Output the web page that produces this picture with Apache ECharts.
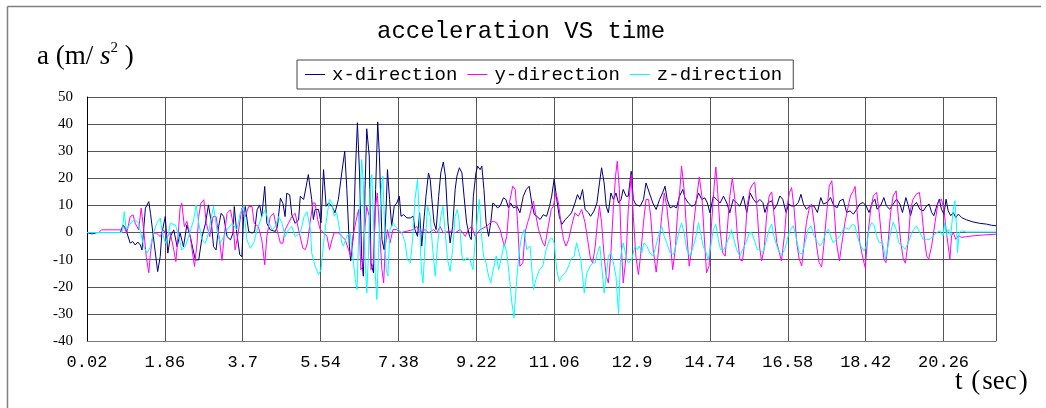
<!DOCTYPE html>
<html>
<head>
<meta charset="utf-8">
<title>acceleration VS time</title>
<script src="https://cdn.jsdelivr.net/npm/echarts@6/dist/echarts.min.js"></script>
<style>
  html, body { margin: 0; padding: 0; background: #fff; }
  #chart { width: 1046px; height: 408px; }
</style>
</head>
<body>
<div id="chart"></div>
<script>
// Acceleration records, [time (s), acceleration (m/s^2)] at turning points of each trace.
const xDirection = [
  [0.02,0],[0.14,-0.5],[0.26,0],[0.81,0],[0.87,2.8],[0.93,1.6],[1.04,-3.9],[1.10,-3.3],[1.16,-4.6],[1.22,-3.5],
  [1.28,-4.6],[1.32,-6.4],[1.40,9.0],[1.48,11.4],[1.52,7.1],[1.69,-14.4],[1.75,-8.9],[1.79,-0.2],[1.87,5.9],[1.93,-7.6],
  [1.99,-1.5],[2.07,1.0],[2.15,-5.2],[2.22,-0.2],[2.30,-5.2],[2.38,2.8],[2.46,-1.5],[2.58,-10.1],[2.66,-10.1],[2.74,-1.5],
  [2.82,3.4],[2.89,10.2],[2.96,3.4],[3.01,-5.2],[3.07,-6.4],[3.13,2.2],[3.19,7.1],[3.25,5.9],[3.33,-1.5],[3.41,-2.7],
  [3.47,-0.2],[3.50,9.6],[3.56,-0.2],[3.63,-8.2],[3.68,-8.9],[3.72,5.9],[3.76,9.6],[3.84,0.4],[3.92,-0.2],[3.98,0.4],
  [4.04,8.4],[4.10,10.2],[4.15,5.9],[4.22,17.0],[4.27,3.4],[4.35,1.0],[4.47,0.4],[4.52,2.2],[4.59,12.7],[4.65,10.8],
  [4.70,5.9],[4.74,14.5],[4.81,13.9],[4.86,6.5],[4.94,3.4],[5.02,4.7],
  [5.06,13.4],[5.14,12.2],[5.20,17.1],[5.25,21.4],[5.33,12.2],[5.37,4.8],[5.41,8.5],[5.49,8.5],[5.55,3.6],[5.61,23.2],
  [5.67,9.7],[5.73,10.9],[5.81,9.7],[5.88,7.3],[5.96,12.2],[6.04,22.0],[6.11,30.0],[6.16,15.9],[6.22,-5.0],[6.25,-10.5],
  [6.32,-0.1],[6.36,22.0],[6.41,40.5],[6.46,22.0],[6.51,-8.7],[6.55,-16.1],[6.59,15.9],[6.63,38.3],[6.69,28.2],[6.73,-11.2],
  [6.79,-14.9],[6.84,15.9],[6.89,40.8],[6.93,28.2],[6.99,-2.6],[7.04,-6.3],[7.09,9.7],[7.12,23.2],[7.17,12.2],[7.22,2.3],
  [7.28,9.7],[7.34,10.9],[7.40,13.4],[7.44,6.0],[7.50,6.6],[7.58,5.4],[7.66,5.4],[7.73,6.0],[7.77,1.1],[7.83,-1.4],
  [7.88,7.3],[7.93,-5.0],[7.99,6.0],[8.03,13.4],[8.09,22.0],[8.13,19.6],[8.17,12.2],[8.22,3.6],[8.27,1.1],[8.33,13.4],
  [8.38,22.0],[8.44,26.0],[8.49,20.8],[8.55,3.6],[8.60,-3.8],[8.66,2.3],[8.72,15.9],[8.76,20.8],[8.82,23.9],[8.88,22.0],
  [8.93,13.4],[8.99,3.6],[9.06,-1.4],[9.10,-2.6],[9.15,13.4],[9.21,22.0],[9.25,24.5],[9.31,23.2],[9.35,24.5],[9.40,15.9],
  [9.45,3.6],[9.51,-1.4],[9.56,3.6],[9.61,10.9],[9.66,10.3],[9.72,9.1],[9.78,9.7],[9.86,12.8],[9.92,12.2],[9.98,9.1],
  [10.03,10.9],[10.10,9.1],[10.18,9.7],[10.25,7.3],[10.33,13.4],[10.40,15.9],[10.47,17.1],[10.53,10.9],[10.59,6.6],[10.65,6.0],
  [10.73,4.8],
  [10.80,6.6],[10.88,6.0],[10.95,9.7],[11.00,13.4],[11.06,19.8],[11.12,12.2],[11.18,6.0],[11.24,3.0],[11.32,4.8],[11.40,6.0],
  [11.47,7.3],[11.55,10.9],[11.61,14.0],[11.67,12.2],[11.73,15.9],[11.79,8.5],[11.87,7.3],[11.92,6.0],[12.00,7.9],[12.07,10.9],
  [12.13,18.3],[12.18,23.9],[12.24,18.3],[12.29,9.7],[12.34,7.3],[12.40,14.6],[12.46,12.2],[12.52,14.6],[12.58,10.9],[12.64,12.2],
  [12.69,15.9],[12.76,13.4],[12.81,13.4],[12.88,22.6],[12.93,12.2],[12.99,10.3],[13.09,9.7],[13.17,12.2],[13.23,18.3],[13.31,14.6],
  [13.39,10.9],[13.47,8.5],[13.55,12.2],[13.62,14.6],[13.68,17.1],[13.73,12.2],[13.80,9.1],[13.88,9.7],[13.95,9.1],[14.02,13.4],
  [14.10,15.9],[14.15,12.8],[14.23,10.9],[14.31,9.7],[14.39,10.3],[14.47,14.6],[14.55,12.2],[14.62,12.8],[14.68,10.9],[14.74,7.3],
  [14.82,13.4],[14.90,12.2],[14.98,10.9],[15.06,13.4],[15.14,10.9],[15.21,7.3],[15.29,12.2],[15.37,10.9],[15.45,9.7],[15.53,13.4],
  [15.61,7.3],[15.69,14.6],[15.77,12.2],[15.84,10.9],[15.92,12.2],
  [15.99,11.1],[16.04,7.4],[16.12,11.1],[16.20,11.7],[16.26,8.6],[16.33,10.5],[16.39,13.5],[16.46,12.3],[16.54,7.4],[16.60,10.5],
  [16.67,9.8],[16.75,9.8],[16.83,11.1],[16.89,14.1],[16.95,10.5],[17.02,8.6],[17.10,9.8],[17.20,9.8],[17.28,7.4],[17.36,12.9],
  [17.42,10.5],[17.51,11.1],[17.59,12.9],[17.67,9.8],[17.75,9.2],[17.81,11.7],[17.89,12.3],[17.97,7.4],[18.05,8.0],[18.13,6.8],
  [18.21,8.6],[18.28,10.5],[18.36,11.1],[18.43,9.8],[18.50,7.4],[18.58,11.1],[18.64,12.3],[18.69,8.6],[18.77,9.8],[18.85,12.9],
  [18.91,9.8],[18.99,8.6],[19.07,10.5],[19.15,12.3],[19.23,10.5],[19.29,7.4],[19.37,12.9],[19.43,9.8],[19.48,6.2],[19.54,9.8],
  [19.62,11.1],[19.70,8.6],[19.78,8.0],[19.86,9.8],[19.92,10.5],[19.98,7.4],[20.03,6.2],[20.10,9.8],[20.16,12.3],[20.21,8.6],
  [20.27,6.8],[20.32,12.3],[20.37,8.0],[20.43,6.2],[20.49,7.4],[20.55,5.5],[20.61,6.8],[20.69,5.5],[20.80,4.7],[20.96,3.9],
  [21.12,3.4],[21.28,3.1],[21.39,2.7],[21.50,2.5]
];

const yDirection = [
  [0.02,0],[0.30,0],[0.36,1.0],[0.81,1.0],[0.89,2.2],[0.96,-0.2],[1.04,5.9],[1.11,6.5],[1.16,3.4],[1.24,1.0],
  [1.30,9.0],[1.36,1.0],[1.42,-8.9],[1.48,-14.8],[1.52,-7.6],[1.58,-0.2],[1.66,-0.2],[1.75,-1.5],[1.83,1.0],[1.91,-1.5],
  [1.99,-0.2],[2.07,-6.4],[2.12,-10.7],[2.17,-1.5],[2.22,9.0],[2.26,10.8],[2.32,2.2],[2.38,4.1],[2.46,-1.5],[2.56,-12.5],
  [2.62,-3.9],[2.66,5.9],[2.71,10.8],[2.78,12.1],[2.84,3.4],[2.92,-1.5],[3.00,5.9],[3.07,5.9],[3.15,-2.7],[3.21,-10.3],
  [3.26,-1.5],[3.33,7.1],[3.41,8.4],[3.47,3.4],[3.52,-6.4],[3.58,-1.5],[3.68,9.0],[3.76,5.9],[3.84,9.6],[3.92,9.6],
  [3.97,3.4],[4.07,2.2],[4.15,-2.7],[4.22,-11.9],[4.27,-1.5],[4.35,5.9],[4.43,7.1],[4.51,1.0],[4.59,-3.9],[4.65,-3.9],
  [4.70,1.0],[4.78,3.4],[4.86,5.9],[4.94,7.1],[5.02,1.0],
  [5.12,-5.7],[5.18,-6.3],[5.23,-3.8],[5.29,3.6],[5.36,10.9],[5.41,10.9],[5.47,4.8],[5.53,1.1],[5.61,-0.1],[5.69,-1.4],
  [5.75,-6.3],[5.81,-2.6],[5.86,-0.1],[5.96,-0.1],[6.04,-1.4],[6.12,-2.6],[6.20,-6.3],[6.25,-8.7],[6.32,-0.1],[6.40,6.0],
  [6.44,8.5],[6.49,-13.7],[6.54,-12.4],[6.59,2.3],[6.63,9.7],[6.69,6.0],[6.73,-13.7],[6.79,-11.2],[6.83,8.5],[6.88,14.6],
  [6.93,1.1],[6.99,-13.7],[7.03,-18.6],[7.07,-5.0],[7.12,1.1],[7.18,-3.8],[7.25,1.1],[7.34,1.1],[7.42,-0.1],[7.58,0.5],
  [7.73,1.1],[7.81,2.3],[7.89,-0.1],[8.01,1.1],[8.09,-0.1],[8.21,1.1],[8.29,-0.1],[8.36,2.3],[8.44,-0.1],[8.60,0.5],
  [8.72,-0.1],[8.84,1.1],[8.96,-1.4],[9.03,1.1],[9.11,2.3],[9.19,-1.4],[9.31,1.1],[9.47,2.3],[9.55,3.6],[9.62,4.2],
  [9.70,3.6],[9.78,1.1],[9.88,-5.0],[9.94,-1.4],[10.00,10.9],[10.08,17.1],[10.14,15.9],[10.19,4.8],[10.25,-12.4],[10.32,-11.2],
  [10.37,-0.1],[10.43,3.6],[10.48,6.0],[10.53,9.7],[10.57,11.6],[10.63,6.0],[10.69,1.1],
  [10.79,-3.8],[10.84,-5.0],[10.92,2.3],[10.99,8.5],[11.04,9.7],[11.10,14.6],[11.16,10.9],[11.22,3.6],[11.28,-2.6],[11.34,-5.0],
  [11.40,-2.6],[11.47,2.3],[11.55,7.3],[11.63,6.0],[11.71,8.5],[11.79,3.6],[11.85,-2.6],[11.92,-10.0],[11.97,-11.2],[12.03,-5.0],
  [12.08,3.6],[12.13,9.7],[12.18,3.6],[12.24,-8.7],[12.29,-16.1],[12.34,-18.6],[12.40,-7.5],[12.46,9.7],[12.51,20.8],[12.55,26.3],
  [12.60,15.9],[12.64,-2.6],[12.69,-18.6],[12.76,-8.7],[12.81,8.5],[12.88,21.4],[12.93,6.0],[12.99,-8.7],[13.05,-15.5],[13.10,-8.7],
  [13.17,3.6],[13.23,12.2],[13.29,12.2],[13.34,6.0],[13.40,-6.3],[13.47,-14.6],[13.52,-7.5],[13.60,6.0],[13.66,14.6],[13.72,9.7],
  [13.80,-2.6],[13.86,-13.7],[13.92,-6.3],[13.97,6.0],[14.03,15.9],[14.07,24.5],[14.13,15.9],[14.19,-0.1],[14.25,-12.4],[14.31,-6.3],
  [14.36,3.6],[14.43,13.4],[14.49,20.5],[14.55,13.4],[14.60,-0.1],[14.66,-14.9],[14.72,-12.4],[14.78,3.6],[14.84,17.1],[14.88,24.2],
  [14.92,15.9],[14.98,1.1],[15.04,-7.5],[15.10,-8.7],[15.15,1.1],[15.21,13.4],[15.27,20.2],[15.33,12.2],[15.39,-1.4],[15.45,-10.0],
  [15.51,-10.5],[15.57,-2.5],[15.62,9.8],[15.69,16.0],[15.75,17.8],[15.80,18.5],[15.86,7.4],[15.91,-4.9],[15.96,-10.5],[16.02,-6.2],
  [16.08,6.2],[16.14,13.5],[16.20,15.0],[16.25,7.4],[16.32,-3.7],[16.38,-7.4],[16.43,-10.5],[16.50,-1.2],[16.55,8.6],[16.62,14.8],
  [16.67,16.6],[16.73,8.6],[16.79,-3.7],[16.85,-9.8],[16.91,-12.3],[16.96,-4.9],[17.02,3.7],[17.09,9.2],[17.14,10.5],[17.20,3.7],
  [17.26,-4.9],[17.32,-11.1],[17.38,-12.7],[17.43,-4.9],[17.50,7.4],[17.56,17.2],[17.62,19.1],[17.67,9.8],[17.73,-3.7],[17.80,-10.5],
  [17.85,-4.9],[17.93,3.7],[18.01,9.8],[18.06,13.5],[18.13,15.4],[18.17,17.0],[18.22,7.4],[18.28,-3.7],[18.36,-9.8],[18.41,-12.9],
  [18.47,-1.2],[18.54,8.6],[18.60,13.5],[18.68,14.8],[18.74,7.4],[18.80,-2.5],[18.85,-9.8],[18.90,-11.1],[18.95,-3.7],[19.01,7.4],
  [19.07,13.5],[19.14,15.4],[19.19,6.2],[19.25,-3.7],[19.31,-9.8],[19.36,-11.3],[19.43,-2.5],[19.48,8.6],[19.54,12.3],[19.61,14.1],
  [19.69,14.8],[19.74,8.6],[19.80,-1.2],[19.86,-8.6],[19.91,-9.8],[19.98,-4.9],[20.06,3.7],[20.13,11.1],[20.21,12.3],[20.27,8.6],
  [20.32,1.2],[20.37,-4.9],[20.41,-9.8],[20.45,-1.2],[20.49,0],[20.55,-2.5],[20.61,-1.2],[20.69,-1.8],[20.80,-1.5],[20.96,-1.2],
  [21.20,-0.9],[21.50,-0.6]
];

const zDirection = [
  [0.02,0],[0.85,0],[0.90,7.7],[0.95,1.0],[1.00,2.2],[1.08,4.1],[1.16,4.7],[1.24,3.4],[1.36,-5.2],[1.44,-7.6],
  [1.52,-5.2],[1.59,-0.2],[1.67,3.4],[1.75,5.3],[1.79,1.0],[1.87,-3.9],[1.93,-1.5],[1.99,3.4],[2.11,2.8],[2.19,-1.5],
  [2.26,-6.4],[2.34,-5.2],[2.42,-1.5],[2.54,4.7],[2.60,10.2],[2.66,3.4],[2.74,-2.7],[2.82,-3.9],[2.89,-0.2],[2.96,5.9],
  [3.01,9.6],[3.09,1.0],[3.17,-3.9],[3.25,-1.5],[3.33,1.0],[3.45,3.4],[3.56,1.0],[3.64,7.1],[3.72,9.6],[3.80,-2.7],
  [3.88,-5.8],[3.96,-3.9],[4.04,1.0],[4.15,5.9],[4.23,8.4],[4.31,4.1],[4.39,1.0],[4.47,2.2],[4.55,5.9],[4.63,3.4],
  [4.70,-1.5],[4.78,1.0],[4.86,2.2],[4.94,-1.5],[5.06,-0.2],[5.15,5.9],[5.22,7.7],[5.30,1.0],
  [5.33,-7.5],[5.41,-12.4],[5.49,-15.5],[5.55,-13.7],[5.61,-3.8],[5.69,6.0],[5.75,12.2],[5.81,10.9],[5.86,6.0],[5.92,7.3],
  [5.99,1.1],[6.04,-3.8],[6.08,-5.0],[6.16,-1.4],[6.24,-0.1],[6.30,-8.7],[6.36,-17.3],[6.40,-21.0],[6.45,3.6],[6.51,26.9],
  [6.55,18.3],[6.59,-8.7],[6.63,-22.3],[6.67,-8.7],[6.71,15.9],[6.75,21.4],[6.79,3.6],[6.83,-14.9],[6.87,-24.7],[6.92,-2.6],
  [6.97,15.9],[7.01,20.8],[7.05,3.6],[7.09,-13.7],[7.13,-16.1],[7.18,1.1],[7.25,3.6],[7.30,2.3],[7.38,1.1],[7.46,-0.1],
  [7.54,-3.8],[7.59,-10.0],[7.66,-11.2],[7.72,-1.4],[7.77,12.2],[7.83,19.6],[7.88,3.6],[7.92,-13.7],[7.96,-18.6],[8.01,-3.8],
  [8.07,9.7],[8.13,6.0],[8.19,-6.3],[8.25,-16.1],[8.30,-5.0],[8.38,6.0],[8.43,9.7],[8.48,1.1],[8.54,-10.0],[8.60,-14.3],
  [8.66,-6.3],[8.72,6.0],[8.77,8.5],[8.82,3.6],[8.88,-8.7],[8.93,-10.6],[8.99,-9.3],[9.07,-10.0],[9.14,-13.7],[9.19,-3.8],
  [9.25,6.0],[9.29,12.2],[9.33,1.1],[9.39,-8.7],[9.45,-11.2],[9.51,-16.1],[9.56,-18.6],[9.62,-13.7],[9.69,-8.7],[9.75,-13.7],
  [9.82,-8.7],[9.88,-3.8],[9.94,-7.5],[10.00,-16.1],[10.06,-26.0],[10.11,-31.5],[10.18,-16.1],[10.24,-6.3],[10.29,-1.4],[10.35,1.1],
  [10.41,-6.3],[10.49,-5.0],
  [10.57,-21.0],[10.63,-17.3],[10.71,-13.7],[10.79,-12.4],[10.87,-6.3],[10.95,-2.6],[11.00,-2.0],[11.06,-3.8],[11.12,-13.7],[11.18,-18.0],
  [11.24,-16.1],[11.32,-14.9],[11.40,-12.4],[11.45,-10.0],[11.53,-8.7],[11.59,-3.8],[11.63,-3.2],[11.69,-10.0],[11.77,-22.3],[11.83,-14.9],
  [11.91,-12.4],[11.97,-11.2],[12.03,-11.2],[12.08,-7.5],[12.14,-5.0],[12.18,-4.4],[12.24,-22.3],[12.29,-16.1],[12.34,-8.7],[12.40,-7.5],
  [12.46,-11.2],[12.52,-16.1],[12.58,-29.9],[12.63,-8.7],[12.69,-3.8],[12.76,-8.7],[12.81,-11.2],[12.89,-10.0],[12.97,-5.0],[13.03,-6.3],
  [13.07,-5.0],[13.13,-7.5],[13.18,-3.8],[13.25,-5.0],[13.32,-7.5],[13.39,-8.7],[13.44,-6.3],[13.52,-1.4],[13.60,2.3],[13.66,-1.4],
  [13.72,-3.8],[13.80,-7.5],[13.88,-8.1],[13.95,-3.8],[14.02,1.1],[14.07,3.6],[14.13,-0.1],[14.19,-6.3],[14.27,-8.7],[14.35,-5.0],
  [14.41,-1.4],[14.47,3.6],[14.52,-0.1],[14.58,-5.0],[14.65,-7.5],[14.70,-10.0],[14.76,-5.0],[14.82,1.1],[14.88,3.0],[14.94,-2.6],
  [14.99,-6.3],[15.07,-6.3],[15.14,-3.8],[15.20,-1.4],[15.25,1.1],[15.31,-2.6],[15.37,-6.3],[15.45,-8.7],[15.51,-6.3],[15.59,-3.8],
  [15.67,-0.1],[15.73,-0.1],[15.81,-3.8],[15.86,-6.3],[15.92,-6.3],
  [15.99,-7.4],[16.06,-3.7],[16.14,1.2],[16.20,3.1],[16.25,-1.2],[16.32,-4.9],[16.38,-7.4],[16.44,-8.0],[16.51,-6.2],[16.59,-1.2],
  [16.65,1.2],[16.71,2.5],[16.77,-1.2],[16.85,-7.4],[16.91,-8.0],[16.99,-3.7],[17.06,1.2],[17.13,2.5],[17.20,-1.2],[17.28,-3.7],
  [17.34,-4.9],[17.40,-3.7],[17.48,0],[17.54,1.2],[17.59,-1.2],[17.65,-3.7],[17.73,-2.5],[17.81,-1.2],[17.89,1.2],[17.95,1.8],
  [18.03,1.2],[18.11,3.1],[18.17,2.5],[18.22,-1.2],[18.30,-4.9],[18.38,-6.8],[18.44,-4.9],[18.50,1.2],[18.56,3.7],[18.62,2.5],
  [18.68,-1.2],[18.74,-3.7],[18.82,-3.7],[18.89,-9.8],[18.95,-4.9],[19.01,0],[19.07,3.9],[19.14,1.2],[19.20,-3.7],[19.27,-4.9],
  [19.35,-6.2],[19.43,-3.7],[19.51,0],[19.56,1.2],[19.62,2.5],[19.70,0],[19.78,-2.5],[19.86,-2.5],[19.94,-2.5],[20.02,-1.2],
  [20.10,0],[20.17,0.6],[20.25,-1.2],[20.29,3.7],[20.33,-1.2],[20.37,1.2],[20.43,-1.2],[20.49,8.6],[20.53,11.7],[20.57,1.2],
  [20.59,-7.4],[20.63,0],[20.69,0.6],[20.80,0.2],[21.50,0.2]
];

// Time axis: first sample at 0.02 s, labelled every 1.84 s.
const T0 = 0.02;
const TICK_STEP = 1.84;
const T_END = 21.5;
const timeLabels = ['0.02', '1.86', '3.7', '5.54', '7.38', '9.22', '11.06', '12.9', '14.74', '16.58', '18.42', '20.26'];

const seriesDefs = [
  { name: 'x-direction', color: '#000080', data: xDirection },
  { name: 'y-direction', color: '#ff00ff', data: yDirection },
  { name: 'z-direction', color: '#00ffff', data: zDirection }
];

const gridColor = '#555';
const monoFont = '"Liberation Mono", "DejaVu Sans Mono", monospace';
const serifFont = '"Liberation Serif", "DejaVu Serif", serif';

const chart = echarts.init(document.getElementById('chart'), null, { renderer: 'canvas' });

chart.setOption({
  animation: false,
  backgroundColor: '#fff',
  title: {
    text: 'acceleration VS time',
    left: 377,
    top: 20,
    padding: 0,
    textStyle: { fontFamily: monoFont, fontSize: 24, fontWeight: 'normal', color: '#000' }
  },
  legend: {
    left: 297,
    top: 60,
    padding: [5, 11, 5, 8],
    itemGap: 10,
    itemWidth: 20,
    itemHeight: 1,
    icon: 'rect',
    borderColor: '#444',
    borderWidth: 1,
    borderRadius: 0,
    backgroundColor: '#fff',
    textStyle: { fontFamily: monoFont, fontSize: 19, color: '#000', padding: [0, 0, 0, 2] },
    data: seriesDefs.map(s => s.name)
  },
  grid: {
    left: 87,
    top: 97,
    width: 909,
    height: 244,
    containLabel: false,
    outerBoundsMode: 'none',
    show: false
  },
  xAxis: {
    type: 'value',
    min: 0,
    max: T_END - T0,
    interval: TICK_STEP,
    axisLine: { show: true, onZero: false, lineStyle: { color: '#777', width: 1 } },
    axisTick: { show: false },
    axisLabel: {
      show: true,
      margin: 13,
      showMaxLabel: false,
      fontFamily: monoFont,
      fontSize: 17,
      color: '#000',
      formatter: v => timeLabels[Math.round(v / TICK_STEP)] ?? ''
    },
    splitLine: { show: true, lineStyle: { color: gridColor, width: 1, type: 'solid' } }
  },
  yAxis: {
    type: 'value',
    min: -40,
    max: 50,
    interval: 10,
    axisLine: { show: true, onZero: false, lineStyle: { color: '#000', width: 1 } },
    axisTick: { show: false },
    axisLabel: { margin: 14, fontFamily: serifFont, fontSize: 15, color: '#000' },
    splitLine: { show: true, lineStyle: { color: gridColor, width: 1, type: 'solid' } }
  },
  series: seriesDefs.map(s => ({
    name: s.name,
    type: 'line',
    showSymbol: false,
    symbol: 'none',
    smooth: false,
    clip: true,
    color: s.color,
    lineStyle: { color: s.color, width: 1 },
    emphasis: { disabled: true },
    data: s.data.map(([t, a]) => [+(t - T0).toFixed(4), a])
  })),
  graphic: [
    // outer frame (top and left edges)
    { type: 'line', silent: true, shape: { x1: 7.5, y1: 6.5, x2: 1041, y2: 6.5 }, style: { stroke: '#808080', lineWidth: 1.5 } },
    { type: 'line', silent: true, shape: { x1: 7.5, y1: 6.5, x2: 7.5, y2: 408 }, style: { stroke: '#808080', lineWidth: 1.5 } },
    // y-axis unit
    {
      type: 'text', silent: true, left: 37, top: 41,
      style: {
        text: '{n|a (m/ }{i|s}{p|2}{n| )}',
        rich: {
          n: { fontFamily: serifFont, fontSize: 27, lineHeight: 32, fill: '#000' },
          i: { fontFamily: serifFont, fontSize: 27, lineHeight: 32, fontStyle: 'italic', fill: '#000' },
          p: { fontFamily: serifFont, fontSize: 15, lineHeight: 15, verticalAlign: 'top', fill: '#000' }
        }
      }
    },
    // x-axis unit
    {
      type: 'text', silent: true, left: 955, top: 368,
      style: {
        text: '{n|t }{q|(}{n|sec}{q|)}',
        rich: {
          n: { fontFamily: serifFont, fontSize: 27, lineHeight: 30, fill: '#000' },
          q: { fontFamily: serifFont, fontSize: 27, lineHeight: 30, padding: [0, 2], fill: '#000' }
        }
      }
    }
  ]
});
</script>
</body>
</html>
